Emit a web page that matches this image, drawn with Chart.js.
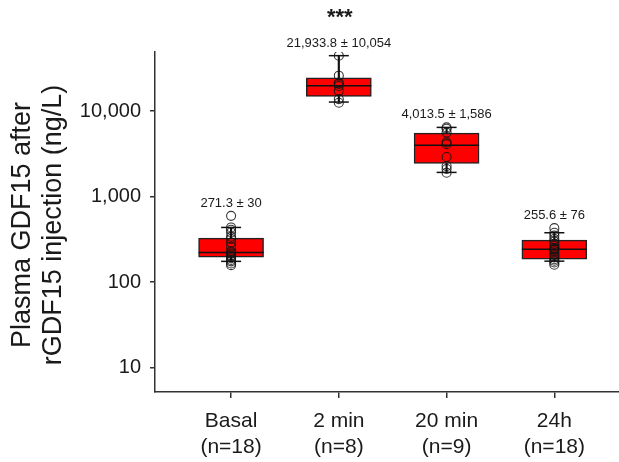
<!DOCTYPE html>
<html>
<head>
<meta charset="utf-8">
<script src="https://cdn.jsdelivr.net/npm/chart.js@4"></script>
<style>
  html, body { margin: 0; padding: 0; background: #fff; }
  #wrap { width: 619px; height: 462px; }
</style>
</head>
<body>
<div id="wrap"><canvas id="gdfChart" width="619" height="462"></canvas></div>
<script>
// group labels
const categories = ["Basal", "2 min", "20 min", "24h"];
const groupSizes = ["(n=18)", "(n=8)", "(n=9)", "(n=18)"];

// box stats (ng/L)
const q1Values = [196, 14850, 2445, 185];
const medianValues = [222, 19770, 3970, 243];
const q3Values = [327, 24500, 5530, 310];
const whiskerLow = [175, 12740, 1918, 176];
const whiskerHigh = [436, 44400, 6440, 378];

// individual samples
const basalPoints = [596, 436, 410, 380, 340, 320, 290, 260, 230, 222, 215, 205, 198, 190, 182, 175, 165, 158];
const min2Points = [44400, 25900, 21400, 20800, 19600, 17100, 13800, 12500];
const min20Points = [6440, 6200, 5600, 4300, 4100, 2900, 2275, 2100, 1900];
const h24Points = [428, 378, 350, 320, 300, 280, 265, 250, 245, 240, 230, 215, 205, 195, 185, 178, 170, 160];
const pointValues = [basalPoints, min2Points, min20Points, h24Points];

// mean ± sd labels + significance
const meanLabels = ["271.3 \u00b1 30", "21,933.8 \u00b1 10,054", "4,013.5 \u00b1 1,586", "255.6 \u00b1 76"];
const sigLabels = ["", "***", "", ""];

const yTicks = [10, 100, 1000, 10000];
const yTitle = ["Plasma GDF15 after", "rGDF15 injection (ng/L)"];

const FONT = "'Liberation Sans', Arial, sans-serif";
const INK = "#1a1a1a";

const boxData = categories.map((c, i) => ({ x: i + 1, y: [q1Values[i], q3Values[i]] }));
const whiskerData = categories.map((c, i) => ({ x: i + 1, y: [whiskerLow[i], whiskerHigh[i]] }));
const medianData = categories.map((c, i) => ({ x: i + 1, y: medianValues[i] }));
const capData = [];
categories.forEach((c, i) => {
  capData.push({ x: i + 1, y: whiskerLow[i] });
  capData.push({ x: i + 1, y: whiskerHigh[i] });
});
const dotData = [];
pointValues.forEach((vals, i) => {
  vals.forEach(v => dotData.push({ x: i + 1, y: v }));
});

// text above the groups + y title
const labelPlugin = {
  id: "labels",
  afterDraw(chart) {
    const { ctx, scales } = chart;
    const xs = scales.x, ys = scales.y;
    ctx.save();
    ctx.fillStyle = INK;
    ctx.textAlign = "center";
    ctx.textBaseline = "middle";
    categories.forEach((c, i) => {
      const top = Math.max(...pointValues[i], whiskerHigh[i]);
      const px = xs.getPixelForValue(i + 1);
      const py = ys.getPixelForValue(top) - 12.5;
      ctx.font = "13px " + FONT;
      ctx.fillText(meanLabels[i], px, py);
      if (sigLabels[i]) {
        ctx.font = "bold 22px " + FONT;
        ctx.fillText(sigLabels[i], px + 1, py - 25);
      }
    });

    // y axis title
    const midY = (chart.chartArea.top + chart.chartArea.bottom) / 2 + 3;
    ctx.font = "27px " + FONT;
    ctx.translate(0, midY);
    ctx.rotate(-Math.PI / 2);
    ctx.fillText(yTitle[0], 0, 23);
    ctx.fillText(yTitle[1], 0, 54);
    ctx.restore();
  }
};

new Chart(document.getElementById("gdfChart"), {
  type: "bar",
  data: {
    datasets: [
      {
        type: "scatter",
        data: dotData,
        pointStyle: "circle",
        pointRadius: 4.5,
        pointBorderWidth: 1.1,
        pointBorderColor: "rgba(20,20,20,0.85)",
        pointBackgroundColor: "rgba(0,0,0,0)",
        order: 0
      },
      {
        type: "scatter",
        data: medianData,
        pointStyle: "line",
        pointRadius: 32.5,
        pointBorderWidth: 1.5,
        pointBorderColor: "#111",
        order: 1
      },
      {
        type: "scatter",
        data: capData,
        pointStyle: "line",
        pointRadius: 10,
        pointBorderWidth: 1.5,
        pointBorderColor: "#111",
        order: 1
      },
      {
        data: boxData,
        backgroundColor: "#ff0000",
        borderColor: "#222",
        borderWidth: 1.5,
        borderSkipped: false,
        barThickness: 65,
        grouped: false,
        order: 2
      },
      {
        data: whiskerData,
        backgroundColor: "#111",
        borderWidth: 0,
        barThickness: 1.5,
        grouped: false,
        order: 3
      }
    ]
  },
  options: {
    responsive: false,
    animation: false,
    layout: { autoPadding: false, padding: { top: 52, right: 0, left: 0, bottom: 0 } },
    plugins: {
      legend: { display: false },
      tooltip: { enabled: false }
    },
    scales: {
      x: {
        type: "linear",
        offset: false,
        min: 0.294,
        max: 4.6,
        afterBuildTicks: s => { s.ticks = [1, 2, 3, 4].map(v => ({ value: v })); },
        afterFit: s => { s.height = 70; s.paddingLeft = 0; s.paddingRight = 0; },
        ticks: {
          color: INK,
          font: { family: FONT, size: 21 },
          padding: 11,
          maxRotation: 0,
          autoSkip: false,
          callback: v => [categories[v - 1], groupSizes[v - 1]]
        },
        grid: { offset: false, drawOnChartArea: false, drawTicks: true, tickLength: 6, color: "#333", lineWidth: 1.5 },
        border: { display: true, color: "#333", width: 1.5 }
      },
      y: {
        type: "logarithmic",
        min: 5.2,
        max: 49000,
        afterBuildTicks: s => { s.ticks = yTicks.map(v => ({ value: v })); },
        afterFit: s => { s.width = 155; },
        ticks: {
          color: INK,
          font: { family: FONT, size: 20 },
          padding: 9,
          autoSkip: false,
          callback: v => Number(v).toLocaleString("en-US")
        },
        grid: { drawOnChartArea: false, drawTicks: true, tickLength: 5, color: "#333", lineWidth: 1.5 },
        border: { display: true, color: "#333", width: 1.5 }
      }
    }
  },
  plugins: [labelPlugin]
});
</script>
</body>
</html>
